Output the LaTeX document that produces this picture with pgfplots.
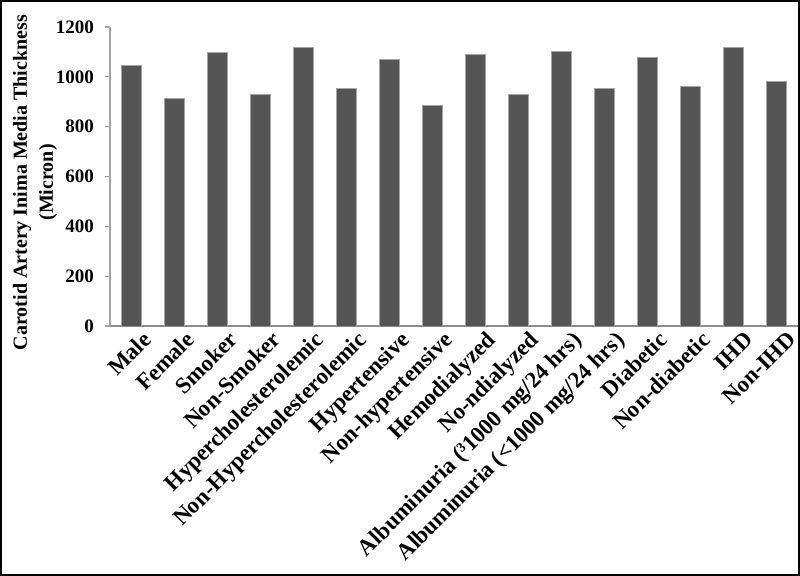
\documentclass[border=0pt]{standalone}
\usepackage{fontspec}
\setmainfont{Liberation Serif}
\usepackage{pgfplots}
\pgfplotsset{compat=1.18}
\definecolor{barfill}{RGB}{85,85,85}
\definecolor{axisgray}{RGB}{140,140,140}
\begin{document}
\begin{tikzpicture}
\useasboundingbox (0pt,0pt) rectangle (400pt,288pt);
\begin{axis}[
  at={(55pt,125pt)}, anchor=south west,
  scale only axis, width=344pt, height=149.5pt,
  ybar, bar width=10pt,
  xmin=-0.5, xmax=15.5, ymin=0, ymax=1200,
  xtick={0,...,15},
  xticklabels={Male,Female,Smoker,Non-Smoker,Hypercholesterolemic,Non-Hypercholesterolemic,Hypertensive,Non-hypertensive,Hemodialyzed,No-ndialyzed,{Albuminuria (³1000 mg/24 hrs)},{Albuminuria (<1000 mg/24 hrs)},Diabetic,Non-diabetic,IHD,Non-IHD},
  ytick={0,200,...,1200},
  axis lines*=left,
  x axis line style={axisgray, line width=1.1pt},
  y axis line style={axisgray!80, line width=0.7pt},
  xtick style={draw=none},
  ytick style={axisgray!80, line width=0.6pt},
  tick align=outside, major tick length=2.5pt,
  /pgf/number format/assume math mode=true,
  y tick label style={font=\bfseries\fontsize{9.5}{10}\selectfont,
    /pgf/number format/1000 sep={}, xshift=-2pt},
  x tick label style={font=\bfseries\fontsize{11.5}{12}\selectfont,
    rotate=45, anchor=north east, inner sep=0pt, xshift=4pt, yshift=-3pt},
  ylabel={Carotid Artery Inima Media Thickness\\(Micron)},
  ylabel style={align=center, font=\bfseries\fontsize{10}{13}\selectfont,
    at={(axis description cs:-0.109,0.48)}, anchor=center},
]
\addplot[fill=barfill, draw=gray!70, line width=0.4pt] coordinates {
  (0,1045) (1,914) (2,1097) (3,930) (4,1117) (5,955) (6,1071) (7,884)
  (8,1089) (9,930) (10,1101) (11,955) (12,1078) (13,960) (14,1117) (15,983)
};
\end{axis}
\draw[line width=1pt] (0.5pt,0.5pt) rectangle (399.5pt,287.5pt);
\end{tikzpicture}
\end{document}
